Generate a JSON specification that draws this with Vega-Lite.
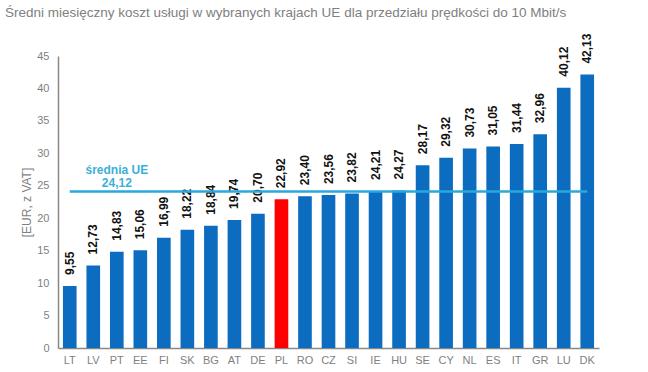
{
  "$schema": "https://vega.github.io/schema/vega-lite/v6.json",
  "width": 541,
  "height": 292,
  "autosize": {"type": "none"},
  "padding": {"left": 58, "top": 56, "right": 49, "bottom": 24},
  "background": "white",
  "title": {
    "text": "Średni miesięczny koszt usługi w wybranych krajach UE dla przedziału prędkości do 10 Mbit/s",
    "anchor": "start",
    "frame": "group",
    "dx": -53,
    "offset": 14,
    "font": "Liberation Sans",
    "fontSize": 13.5,
    "fontWeight": "normal",
    "color": "#808080"
  },
  "config": {
    "view": {"stroke": null},
    "font": "Liberation Sans",
    "axisY": {"tickCount": 12, "labelOverlap": false}
  },
  "datasets": {
    "bars": [
      {"kraj": "LT", "koszt": 9.55, "etykieta": "9,55", "pl": "nie"},
      {"kraj": "LV", "koszt": 12.73, "etykieta": "12,73", "pl": "nie"},
      {"kraj": "PT", "koszt": 14.83, "etykieta": "14,83", "pl": "nie"},
      {"kraj": "EE", "koszt": 15.06, "etykieta": "15,06", "pl": "nie"},
      {"kraj": "FI", "koszt": 16.99, "etykieta": "16,99", "pl": "nie"},
      {"kraj": "SK", "koszt": 18.22, "etykieta": "18,22", "pl": "nie"},
      {"kraj": "BG", "koszt": 18.84, "etykieta": "18,84", "pl": "nie"},
      {"kraj": "AT", "koszt": 19.74, "etykieta": "19,74", "pl": "nie"},
      {"kraj": "DE", "koszt": 20.70, "etykieta": "20,70", "pl": "nie"},
      {"kraj": "PL", "koszt": 22.92, "etykieta": "22,92", "pl": "tak"},
      {"kraj": "RO", "koszt": 23.40, "etykieta": "23,40", "pl": "nie"},
      {"kraj": "CZ", "koszt": 23.56, "etykieta": "23,56", "pl": "nie"},
      {"kraj": "SI", "koszt": 23.82, "etykieta": "23,82", "pl": "nie"},
      {"kraj": "IE", "koszt": 24.21, "etykieta": "24,21", "pl": "nie"},
      {"kraj": "HU", "koszt": 24.27, "etykieta": "24,27", "pl": "nie"},
      {"kraj": "SE", "koszt": 28.17, "etykieta": "28,17", "pl": "nie"},
      {"kraj": "CY", "koszt": 29.32, "etykieta": "29,32", "pl": "nie"},
      {"kraj": "NL", "koszt": 30.73, "etykieta": "30,73", "pl": "nie"},
      {"kraj": "ES", "koszt": 31.05, "etykieta": "31,05", "pl": "nie"},
      {"kraj": "IT", "koszt": 31.44, "etykieta": "31,44", "pl": "nie"},
      {"kraj": "GR", "koszt": 32.96, "etykieta": "32,96", "pl": "nie"},
      {"kraj": "LU", "koszt": 40.12, "etykieta": "40,12", "pl": "nie"},
      {"kraj": "DK", "koszt": 42.13, "etykieta": "42,13", "pl": "nie"}
    ],
    "avg": [
      {"od": "LT", "do": "DK", "srednia": 24.12, "pozycja": "PT", "ytekst": 27.4, "tekst": ["średnia UE", "24,12"]}
    ]
  },
  "layer": [
    {
      "data": {"name": "bars"},
      "mark": {"type": "bar"},
      "encoding": {
        "x": {
          "field": "kraj", "type": "nominal", "sort": null,
          "scale": {"paddingInner": 0.42, "paddingOuter": 0.21},
          "axis": {
            "title": null, "labelAngle": 0, "ticks": false,
            "domainColor": "#888888", "domainWidth": 1.5,
            "labelColor": "#7f7f7f", "labelFontSize": 11, "labelPadding": 6
          }
        },
        "y": {
          "field": "koszt", "type": "quantitative",
          "scale": {"domain": [0, 45]},
          "axis": {
            "values": [0, 5, 10, 15, 20, 25, 30, 35, 40, 45],
            "tickCount": 12,
            "labelOverlap": false,
            "title": "[EUR, z VAT]", "titleColor": "#7f7f7f", "titleFontSize": 12,
            "titleFontWeight": "normal", "titlePadding": 3,
            "grid": false, "ticks": false,
            "domainColor": "#888888", "domainWidth": 1.5,
            "labelColor": "#7f7f7f", "labelFontSize": 11, "labelPadding": 9
          }
        },
        "color": {
          "field": "pl", "type": "nominal",
          "scale": {"domain": ["nie", "tak"], "range": ["#0B6CC0", "#FF0000"]},
          "legend": null
        }
      }
    },
    {
      "data": {"name": "bars"},
      "mark": {"type": "text", "angle": 270, "align": "left", "baseline": "middle", "dx": 11, "fontWeight": "bold", "fontSize": 12, "color": "#111111"},
      "encoding": {
        "x": {"field": "kraj", "type": "nominal", "sort": null},
        "y": {"field": "koszt", "type": "quantitative"},
        "text": {"field": "etykieta"}
      }
    },
    {
      "data": {"name": "avg"},
      "mark": {"type": "rule", "color": "#2AA8DE", "strokeWidth": 2.5},
      "encoding": {
        "x": {"field": "od", "type": "nominal", "sort": null},
        "x2": {"field": "do"},
        "y": {"field": "srednia", "type": "quantitative"}
      }
    },
    {
      "data": {"name": "avg"},
      "mark": {"type": "text", "align": "center", "baseline": "middle", "fontWeight": "bold", "fontSize": 12, "color": "#3AAFD8", "lineHeight": 13},
      "encoding": {
        "x": {"field": "pozycja", "type": "nominal", "sort": null},
        "y": {"field": "ytekst", "type": "quantitative"},
        "text": {"field": "tekst"}
      }
    }
  ]
}
